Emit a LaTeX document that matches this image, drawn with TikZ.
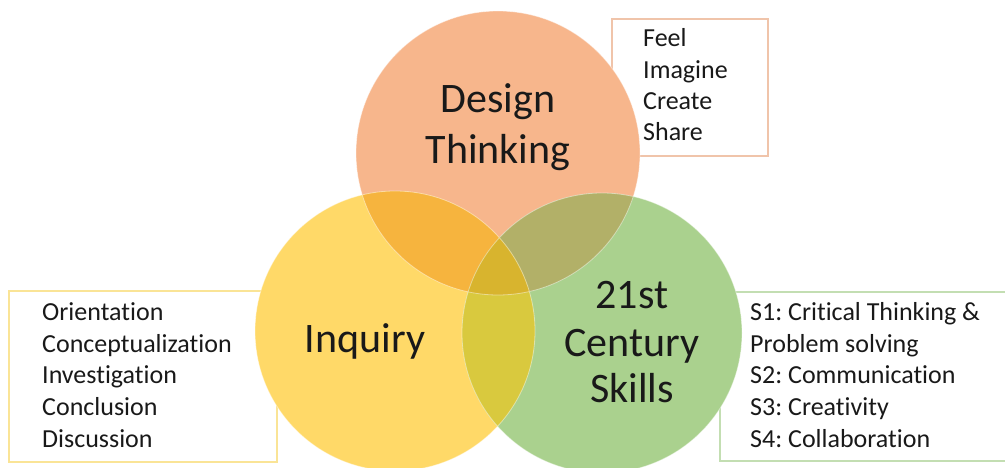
\documentclass[tikz,border=0pt]{standalone}
\usepackage{fontspec}
\setmainfont[Ligatures=NoCommon]{Carlito}
\frenchspacing
\definecolor{cTop}{RGB}{247,182,140}
\definecolor{cLeft}{RGB}{255,217,104}
\definecolor{cRight}{RGB}{170,209,142}
\definecolor{cTL}{RGB}{246,180,62}
\definecolor{cTR}{RGB}{178,176,104}
\definecolor{cLR}{RGB}{217,201,62}
\definecolor{cAll}{RGB}{216,180,46}
\definecolor{bTop}{RGB}{240,196,170}
\definecolor{bLeft}{RGB}{250,228,150}
\definecolor{bRight}{RGB}{195,222,178}
\definecolor{txt}{RGB}{25,25,25}
\begin{document}
\begin{tikzpicture}[x=1pt,y=-1pt,
  listtext/.style={anchor=base west,inner sep=0pt,text=txt,font=\fontsize{26}{30}\selectfont},
  bigtext/.style={anchor=base,inner sep=0pt,text=txt,font=\fontsize{42}{48}\selectfont},
  boxline/.style={line width=1.4pt}]
\useasboundingbox (0,0) rectangle (1005,468);
\begin{scope}
\clip (0,0) rectangle (1005,468);
% boxes
\draw[boxline,draw=bTop] (612,19) rectangle (768,156);
\draw[boxline,draw=bLeft] (9,291) rectangle (277,462);
\draw[boxline,draw=bRight] (720,292) rectangle (1015,461);
% circles
\coordinate (ct) at (498,153);
\coordinate (cl) at (395,331);
\coordinate (cr) at (602,333);
\fill[cTop] (ct) circle[radius=142];
\fill[cLeft] (cl) circle[radius=140];
\fill[cRight] (cr) circle[radius=140];
\begin{scope}
\clip (ct) circle[radius=142];
\fill[cTL] (cl) circle[radius=140];
\fill[cTR] (cr) circle[radius=140];
\end{scope}
\begin{scope}
\clip (cl) circle[radius=140];
\fill[cLR] (cr) circle[radius=140];
\clip (ct) circle[radius=142];
\fill[cAll] (cr) circle[radius=140];
\end{scope}
\draw[white,opacity=0.45,line width=0.8pt] (ct) circle[radius=142] (cl) circle[radius=140] (cr) circle[radius=140];
\end{scope}
% big labels
\node[bigtext] (d1) at (498,113) {Design};
\node[bigtext] (d2) at (498,164) {Thinking};
\node[bigtext] (inq) at (365,352) {Inquiry};
\node[bigtext] (s1) at (632,308) {21st};
\node[bigtext] (s2) at (632,356) {Century};
\node[bigtext] (s3) at (632,402) {Skills};
% lists
\node[listtext] (f1) at (643,47) {Feel};
\node[listtext] (f2) at (643,79) {Imagine};
\node[listtext] (f3) at (643,110) {Create};
\node[listtext] (f4) at (643,141) {Share};
\node[listtext] (i1) at (42,320) {Orientation};
\node[listtext] (i2) at (42,352) {Conceptualization};
\node[listtext] (i3) at (42,383) {Investigation};
\node[listtext] (i4) at (42,415) {Conclusion};
\node[listtext] (i5) at (42,447) {Discussion};
\node[listtext] (k1) at (750,320) {S1: Critical Thinking \&};
\node[listtext] (k2) at (750,352) {Problem solving};
\node[listtext] (k3) at (750,383) {S2: Communication};
\node[listtext] (k4) at (750,415) {S3: Creativity};
\node[listtext] (k5) at (750,447) {S4: Collaboration};
\end{tikzpicture}
\end{document}
